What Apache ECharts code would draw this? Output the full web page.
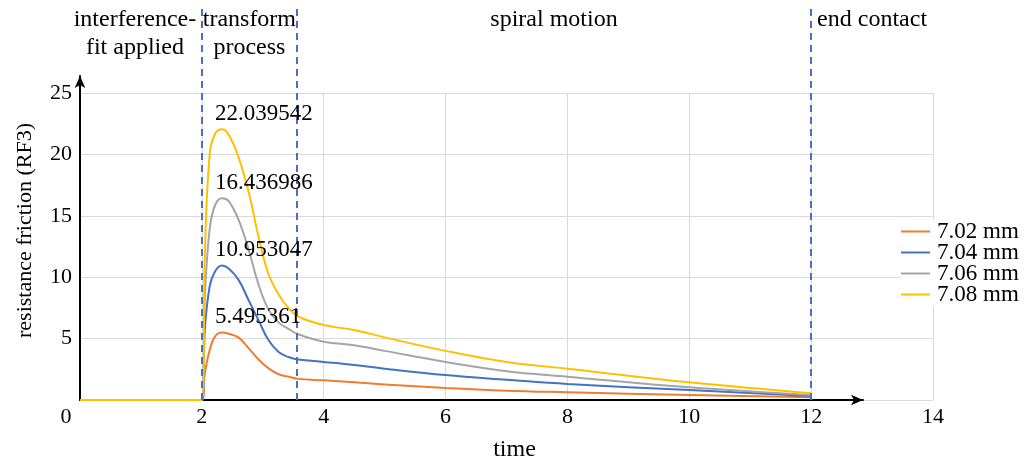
<!DOCTYPE html>
<html>
<head>
<meta charset="utf-8">
<script src="https://cdn.jsdelivr.net/npm/echarts@6/dist/echarts.min.js"></script>
<style>
  html, body { margin: 0; padding: 0; background: #fff; }
  #chart { width: 1028px; height: 462px; }
</style>
</head>
<body>
<div id="chart"></div>
<script>
// time values (x)
var times = [0, 2, 2.05, 2.13, 2.22, 2.33, 2.44, 2.6, 2.77, 2.93, 3.09, 3.26, 3.42, 3.58, 4, 4.5, 5, 6, 7, 8, 10, 12];
var seriesNames = ['7.02 mm', '7.04 mm', '7.06 mm', '7.08 mm'];
var rf702 = [0, 0, 2.2, 4.1, 5.2, 5.495361, 5.4, 5.1, 4.2, 3.3, 2.6, 2.1, 1.9, 1.72, 1.6, 1.45, 1.27, 0.98, 0.76, 0.63, 0.4, 0.22];
var rf704 = [0, 0, 5.8, 9.3, 10.5, 10.953047, 10.7, 9.8, 8.1, 6.5, 4.9, 3.9, 3.5, 3.3, 3.1, 2.85, 2.55, 2.03, 1.65, 1.3, 0.81, 0.33];
var rf706 = [0, 0, 8.5, 14.0, 15.9, 16.436986, 16.2, 14.7, 12.2, 9.4, 7.4, 6.3, 5.8, 5.35, 4.75, 4.45, 4.0, 3.1, 2.35, 1.9, 1.03, 0.4];
var rf708 = [0, 0, 12.0, 20.1, 21.7, 22.039542, 21.6, 19.8, 16.9, 13.3, 10.3, 8.6, 7.5, 6.8, 6.1, 5.7, 5.1, 4.0, 3.1, 2.55, 1.44, 0.55];
var peakLabels = ['5.495361', '10.953047', '16.436986', '22.039542'];
var peakIndex = 5;
var colors = ['#ED7D31', '#4472C4', '#A5A5A5', '#FFC000'];

// phase boundaries and names
var phaseBounds = [0, 2, 3.56, 12, 14];
var phaseNames = ['interference-\nfit applied', 'transform\nprocess', 'spiral motion', 'end contact'];
var phaseShift = [-6, 0, 0, 0];

var FONT = '"Liberation Serif", "DejaVu Serif", serif';

var chart = echarts.init(document.getElementById('chart'));

var allVals = [rf702, rf704, rf706, rf708];
var lineSeries = allVals.map(function (vals, k) {
  return {
    name: seriesNames[k],
    type: 'line',
    xAxisIndex: 0,
    yAxisIndex: 0,
    data: times.map(function (t, i) { return [t, vals[i]]; }),
    smooth: 0.4,
    showSymbol: false,
    symbol: 'none',
    lineStyle: { color: colors[k], width: 2 },
    itemStyle: { color: colors[k] },
    z: 3,
    markPoint: {
      silent: true,
      symbol: 'circle',
      symbolSize: 0,
      label: {
        show: true,
        position: 'top',
        align: 'left',
        offset: [-7, 0],
        distance: 4,
        fontFamily: FONT,
        fontSize: 23,
        color: '#000',
        formatter: function () { return peakLabels[k]; }
      },
      data: [{ coord: [times[peakIndex], vals[peakIndex]] }]
    }
  };
});

var areas = [];
for (var i = 0; i < phaseNames.length; i++) {
  areas.push([
    { name: phaseNames[i], xAxis: phaseBounds[i], label: { offset: [phaseShift[i], 0] } },
    { xAxis: phaseBounds[i + 1] }
  ]);
}

var phaseSeries = {
  name: 'phases',
  type: 'line',
  xAxisIndex: 2,
  yAxisIndex: 2,
  data: [],
  silent: true,
  markLine: {
    silent: true,
    symbol: ['none', 'none'],
    label: { show: false },
    lineStyle: { color: '#4472C4', type: [7, 5], width: 2 },
    data: [{ xAxis: phaseBounds[1] }, { xAxis: phaseBounds[2] }, { xAxis: phaseBounds[3] }]
  },
  markArea: {
    silent: true,
    itemStyle: { color: 'rgba(0,0,0,0)' },
    label: {
      show: true,
      position: 'insideTop',
      distance: -1,
      fontFamily: FONT,
      fontSize: 24,
      lineHeight: 28,
      color: '#000'
    },
    data: areas
  }
};

chart.setOption({
  animation: false,
  backgroundColor: '#fff',
  textStyle: { fontFamily: FONT },
  legend: {
    data: seriesNames,
    orient: 'vertical',
    left: 901,
    top: 220,
    icon: 'rect',
    itemWidth: 29,
    itemHeight: 2,
    itemGap: -2,
    padding: [0, 0, 0, 0],
    backgroundColor: '#fff',
    textStyle: { fontFamily: FONT, fontSize: 23, color: '#000', lineHeight: 21, padding: [0, 0, 0, 2] }
  },
  grid: [
    { left: 80, right: 95, top: 93, bottom: 62, outerBoundsMode: 'none' },
    { left: 80, right: 165, top: 76, bottom: 62, outerBoundsMode: 'none' },
    { left: 80, right: 95, top: 7, bottom: 62, outerBoundsMode: 'none' }
  ],
  xAxis: [
    {
      gridIndex: 0,
      type: 'value',
      min: 0, max: 14, interval: 2,
      name: 'time',
      nameLocation: 'middle',
      nameGap: 38,
      nameTextStyle: { fontFamily: FONT, fontSize: 24, color: '#000', padding: [0, 0, 0, 16] },
      axisLine: { show: false },
      axisTick: { show: false },
      axisLabel: {
        fontFamily: FONT, fontSize: 22, color: '#000', margin: 6,
        formatter: function (v) { return v === 0 ? '{z|0}' : String(v); },
        rich: { z: { fontFamily: FONT, fontSize: 22, color: '#000', padding: [0, 28, 0, 0] } }
      },
      splitLine: { show: true, lineStyle: { color: '#d9d9d9', width: 1 } }
    },
    {
      gridIndex: 1,
      type: 'value',
      min: 0, max: 1,
      axisLine: { show: true, symbol: ['none', 'arrow'], symbolSize: [8, 12], lineStyle: { color: '#000', width: 2 } },
      axisTick: { show: false },
      axisLabel: { show: false },
      splitLine: { show: false }
    },
    {
      gridIndex: 2,
      type: 'value',
      min: 0, max: 14,
      show: false
    }
  ],
  yAxis: [
    {
      gridIndex: 0,
      type: 'value',
      min: 0, max: 25, interval: 5,
      name: 'resistance friction (RF3)',
      nameLocation: 'middle',
      nameGap: 44,
      nameTextStyle: { fontFamily: FONT, fontSize: 22, color: '#000', padding: [0, 0, 0, 32] },
      axisLine: { show: false },
      axisTick: { show: false },
      axisLabel: { fontFamily: FONT, fontSize: 22, color: '#000', margin: 8, showMinLabel: false },
      splitLine: { show: true, lineStyle: { color: '#d9d9d9', width: 1 } }
    },
    {
      gridIndex: 1,
      type: 'value',
      min: 0, max: 1,
      axisLine: { show: true, symbol: ['none', 'arrow'], symbolSize: [8, 12], lineStyle: { color: '#000', width: 2 } },
      axisTick: { show: false },
      axisLabel: { show: false },
      splitLine: { show: false }
    },
    {
      gridIndex: 2,
      type: 'value',
      min: 0, max: 1,
      show: false
    }
  ],
  series: lineSeries.concat([phaseSeries])
});
</script>
</body>
</html>
